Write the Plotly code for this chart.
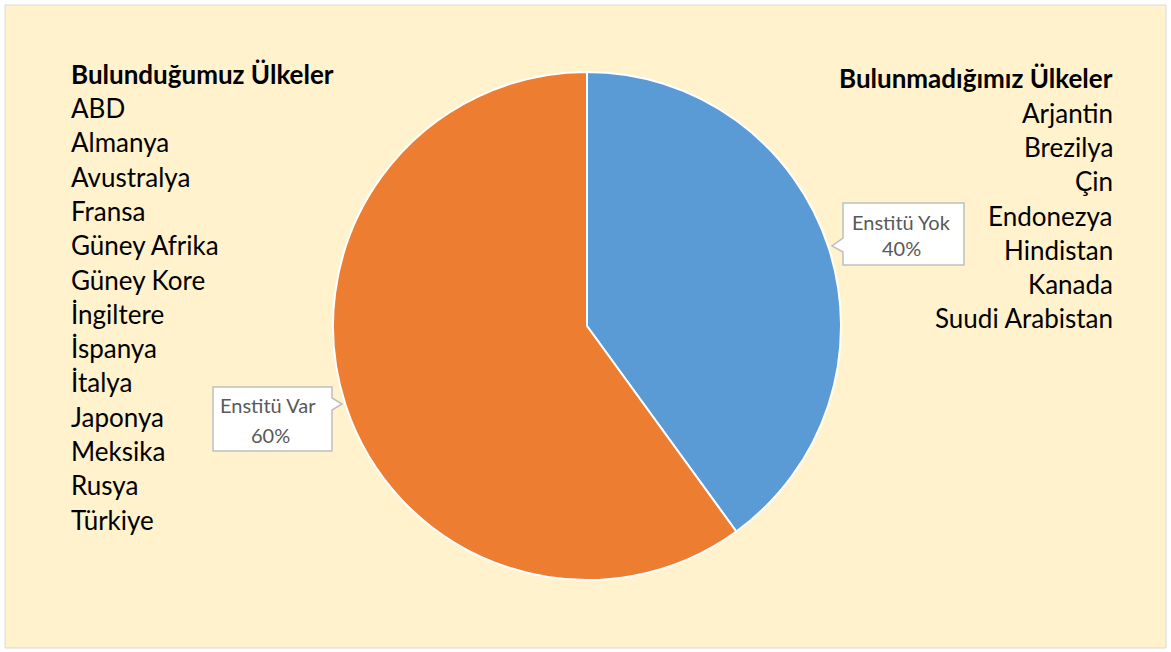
import plotly.graph_objects as go

W, H = 1171, 652

slice_labels = ["Enstitü Yok", "Enstitü Var"]
slice_values = [40, 60]
slice_colors = ["#5B9BD5", "#ED7D31"]

left_title = "Bulunduğumuz Ülkeler"
left_countries = ["ABD", "Almanya", "Avustralya", "Fransa", "Güney Afrika", "Güney Kore",
                  "İngiltere", "İspanya", "İtalya", "Japonya", "Meksika", "Rusya", "Türkiye"]
right_title = "Bulunmadığımız Ülkeler"
right_countries = ["Arjantin", "Brezilya", "Çin", "Endonezya", "Hindistan", "Kanada",
                   "Suudi Arabistan"]

FONT = "Lato"

def px(x):
    return x / W

def py(y):
    return 1 - y / H

cx, cy, r = 587, 326, 254

fig = go.Figure(go.Pie(
    labels=slice_labels, values=slice_values, sort=False, direction="clockwise",
    rotation=0, marker=dict(colors=slice_colors, line=dict(color="white", width=2)),
    textinfo="none", hoverinfo="label+percent", showlegend=False,
    domain=dict(x=[px(cx - r), px(cx + r)], y=[py(cy + r), py(cy - r)]),
))

shapes = [dict(type="rect", xref="paper", yref="paper", x0=px(5), x1=px(1166),
               y0=py(648), y1=py(5), fillcolor="#FFF2CC", line=dict(color="#D9D9D9", width=1),
               layer="below")]

def path(points):
    return "M " + " L ".join(f"{px(x):.5f},{py(y):.5f}" for x, y in points) + " Z"

# callout boxes
yok_box = [(843, 203), (964, 203), (964, 265), (843, 265), (843, 252), (832, 246), (843, 238)]
var_box = [(213, 387), (332, 387), (332, 398), (342, 404), (332, 410), (332, 451), (213, 451)]
for pts in (yok_box, var_box):
    shapes.append(dict(type="path", xref="paper", yref="paper", path=path(pts),
                       fillcolor="white", line=dict(color="#BFBFBF", width=1.5), layer="above"))

annotations = []
def txt(x, y, s, size, color, bold=False, xanchor="left"):
    annotations.append(dict(x=px(x), y=py(y), xref="paper", yref="paper",
                            text=f"<b>{s}</b>" if bold else s,
                            showarrow=False, xanchor=xanchor, yanchor="middle",
                            font=dict(family=FONT, size=size, color=color)))

pct = [v / sum(slice_values) * 100 for v in slice_values]
txt(901, 222, slice_labels[0], 20, "#595959", xanchor="center")
txt(901, 248, f"{pct[0]:.0f}%", 20, "#595959", xanchor="center")
txt(268, 405, slice_labels[1], 20, "#595959", xanchor="center")
txt(270, 435, f"{pct[1]:.0f}%", 20, "#595959", xanchor="center")

txt(69, 74, left_title, 26, "#000000", bold=True)
for i, c in enumerate(left_countries):
    txt(69, 108 + i * 34.3, c, 26, "#000000")
txt(1115, 78, right_title, 26, "#000000", bold=True, xanchor="right")
for i, c in enumerate(right_countries):
    txt(1115, 113 + i * 34.2, c, 26, "#000000", xanchor="right")

fig.update_layout(width=W, height=H, margin=dict(l=0, r=0, t=0, b=0),
                  paper_bgcolor="white", plot_bgcolor="white",
                  shapes=shapes, annotations=annotations)
fig.write_html("out.html", config={"displayModeBar": False},
               post_script="document.body.style.margin='0';document.body.style.padding='0';")
